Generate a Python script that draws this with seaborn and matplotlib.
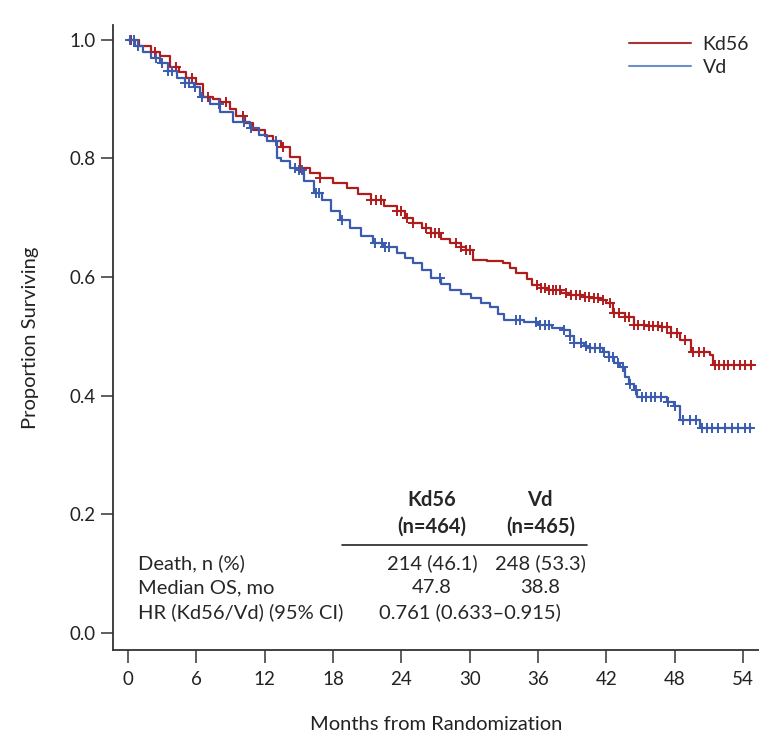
import numpy as np
import pandas as pd
import matplotlib
matplotlib.use('Agg')
import matplotlib.pyplot as plt
import seaborn as sns

# Kaplan-Meier step points (months, proportion surviving)
kd_t = [0, 1.0, 2.0, 2.8, 3.7, 4.5, 5.1, 6.0, 6.6, 7.5, 8.1, 9.0, 9.5, 10.3, 11.0,
        12.0, 12.7, 13.4, 14.2, 15.1, 16.0, 16.9, 18.0, 19.2, 20.2, 21.3, 22.5,
        23.6, 24.3, 25.0, 25.8, 26.6, 27.5, 28.3, 29.2, 29.7, 30.3, 31.5, 32.9,
        33.5, 34.1, 35.0, 35.5, 36.3, 37.0, 38.0, 38.8, 40.0, 40.6, 41.5, 42.0,
        42.6, 43.6, 44.4, 45.5, 46.8, 47.7, 48.5, 49.4, 51.1, 51.4, 55.0]
kd_s = [1.0, 0.989, 0.98, 0.972, 0.955, 0.945, 0.935, 0.925, 0.904, 0.90, 0.896,
        0.883, 0.871, 0.86, 0.848, 0.838, 0.829, 0.82, 0.803, 0.784, 0.775, 0.767,
        0.758, 0.75, 0.74, 0.73, 0.72, 0.711, 0.70, 0.691, 0.683, 0.674, 0.665,
        0.657, 0.651, 0.646, 0.629, 0.627, 0.624, 0.615, 0.607, 0.597, 0.587,
        0.582, 0.578, 0.574, 0.570, 0.567, 0.565, 0.561, 0.556, 0.54, 0.533,
        0.519, 0.517, 0.516, 0.506, 0.494, 0.474, 0.469, 0.452, 0.452]

vd_t = [0, 0.6, 1.3, 2.0, 2.8, 3.5, 4.3, 5.0, 5.8, 6.3, 7.2, 8.1, 9.2, 10.7, 11.5,
        12.2, 13.1, 13.4, 14.2, 14.8, 15.5, 16.3, 17.0, 17.8, 18.6, 19.5, 20.5,
        21.5, 22.5, 23.6, 24.3, 25.0, 25.8, 26.6, 27.5, 28.3, 29.2, 30.1, 31.0,
        31.8, 32.5, 33.0, 34.8, 36.0, 37.2, 38.3, 38.8, 39.2, 40.0, 40.6, 41.7,
        42.2, 42.7, 43.2, 43.6, 44.0, 44.4, 44.7, 47.3, 47.9, 48.5, 50.2, 54.8]
vd_s = [1.0, 0.99, 0.98, 0.97, 0.961, 0.948, 0.935, 0.928, 0.921, 0.904, 0.892,
        0.879, 0.862, 0.852, 0.84, 0.829, 0.80, 0.795, 0.784, 0.781, 0.762, 0.742,
        0.73, 0.712, 0.696, 0.683, 0.67, 0.658, 0.65, 0.641, 0.632, 0.624, 0.612,
        0.599, 0.588, 0.578, 0.572, 0.565, 0.557, 0.55, 0.538, 0.528, 0.525,
        0.519, 0.515, 0.511, 0.50, 0.489, 0.484, 0.48, 0.474, 0.465, 0.455,
        0.449, 0.432, 0.42, 0.41, 0.398, 0.39, 0.382, 0.359, 0.346, 0.346]

# censoring times (months)
kd_cens = [0.3, 2.4, 4.2, 5.6, 7.0, 8.6, 10.1, 13.6, 15.1, 16.9, 21.3, 21.8, 22.2,
           23.6, 24.0, 24.5, 25.0, 26.2, 26.6, 27.0, 27.3, 28.8, 29.2, 29.7, 30.0,
           35.9, 36.3, 36.6, 37.0, 37.3, 37.6, 37.9, 38.5, 38.9, 39.3, 39.7, 40.1,
           40.5, 40.9, 41.3, 41.7, 42.3, 42.7, 43.1, 43.6, 44.0, 44.4, 44.8, 45.3,
           45.7, 46.1, 46.5, 46.9, 47.3, 47.7, 48.2, 48.9, 49.6, 50.1, 50.6, 51.5,
           51.9, 52.3, 52.7, 53.2, 53.7, 54.2, 54.7]
vd_cens = [0.2, 0.5, 0.9, 2.5, 3.0, 3.5, 3.9, 5.0, 5.4, 5.9, 6.5, 8.0, 10.2, 10.8,
           13.0, 14.7, 15.0, 15.3, 16.5, 16.8, 18.8, 21.7, 22.3, 22.6, 22.9, 27.4,
           34.1, 34.4, 35.8, 36.2, 36.6, 37.0, 38.3, 38.8, 39.2, 39.8, 40.2, 40.6,
           41.0, 41.4, 41.8, 42.2, 42.6, 43.0, 43.5, 44.1, 44.6, 45.1, 45.5, 45.9,
           46.3, 46.8, 47.4, 48.0, 48.7, 49.3, 49.9, 50.4, 50.8, 51.3, 51.8, 52.4,
           53.0, 53.6, 54.2, 54.6]

arms = ['Kd56', 'Vd']
table_rows = ['Death, n (%)', 'Median OS, mo', 'HR (Kd56/Vd) (95% CI)']
deaths = ['214 (46.1)', '248 (53.3)']
medians = ['47.8', '38.8']
ns = ['(n=464)', '(n=465)']
hr_text = '0.761 (0.633\u20130.915)'

red = '#B01C1C'
blue = '#3A5BAE'

sns.set_style('ticks')
plt.rcParams['font.family'] = ['Lato', 'DejaVu Sans']

fig = plt.figure(figsize=(7.59, 7.33), dpi=100)
ax = fig.add_axes([0.1495, 0.1132, 0.8505, 0.8527])


def step_at(t, s, times):
    idx = np.searchsorted(t, times, side='right') - 1
    return np.asarray(s)[idx]


for name, t, s, cens, col, lcol in [('Kd56', kd_t, kd_s, kd_cens, red, '#A83434'),
                                   ('Vd', vd_t, vd_s, vd_cens, blue, '#6F8FCC')]:
    df = pd.DataFrame({'t': t, 's': s})
    sns.lineplot(data=df, x='t', y='s', ax=ax, color=col, lw=1.6,
                 drawstyle='steps-post', label=None)
    cy = step_at(np.array(t), s, np.array(cens))
    sns.scatterplot(x=cens, y=cy, ax=ax, marker='+', s=45, color=col,
                    linewidth=1.4, zorder=3)
    ax.plot([], [], color=lcol, lw=1.5, label=name)

ax.set_xlim(-1.27, 55.4)
ax.set_ylim(-0.0287, 1.025)
ax.set_xticks(np.arange(0, 55, 6))
ax.set_yticks([0.0, 0.2, 0.4, 0.6, 0.8, 1.0])
ax.set_yticklabels(['0.0', '0.2', '0.4', '0.6', '0.8', '1.0'])
ax.tick_params(axis='both', length=9, width=1.1, labelsize=13.5, color='#333333',
               labelcolor='#222222')
ax.tick_params(axis='x', pad=6)
for side in ['top', 'right']:
    ax.spines[side].set_visible(False)
for side in ['left', 'bottom']:
    ax.spines[side].set_linewidth(1.3)
    ax.spines[side].set_color('#333333')

ax.set_xlabel('Months from Randomization', fontsize=14.5, labelpad=20, color='#222222')
ax.set_ylabel('Proportion Surviving', fontsize=14.5, labelpad=22, color='#222222')

leg = ax.legend(loc='upper right', frameon=False, fontsize=14, handlelength=3.2,
                handletextpad=0.6, labelspacing=0.3, bbox_to_anchor=(1.012, 1.01))

# summary table
col_x = [26.7, 36.2]
for x, arm, n in zip(col_x, arms, ns):
    ax.text(x, 0.224, arm, ha='center', va='center', fontsize=14.5, fontweight='bold')
    ax.text(x, 0.179, n, ha='center', va='center', fontsize=14.5, fontweight='bold')
ax.plot([18.8, 40.3], [0.148, 0.148], color='#222222', lw=1.2)
row_y = [0.118, 0.076, 0.035]
for y, lab in zip(row_y, table_rows):
    ax.text(0.88, y, lab, ha='left', va='center', fontsize=14.5)
for x, d, m in zip(col_x, deaths, medians):
    ax.text(x, row_y[0], d, ha='center', va='center', fontsize=14.5)
    ax.text(x, row_y[1], m, ha='center', va='center', fontsize=14.5)
ax.text(30.0, row_y[2], hr_text, ha='center', va='center', fontsize=14.5)

fig.savefig('out.png', dpi=100)
